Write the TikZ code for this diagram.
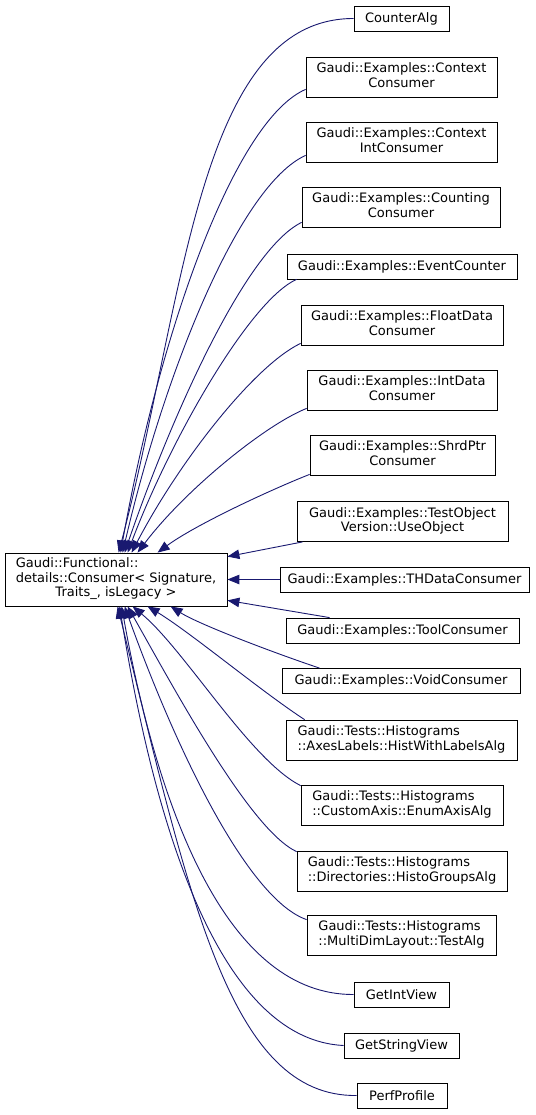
\documentclass[tikz,border=0pt]{standalone}
\usepackage{fontspec}
\setmainfont{DejaVu Sans}
\usetikzlibrary{arrows.meta}
\definecolor{edgeblue}{HTML}{191970}
\newcommand{\twoL}[2]{\begin{tabular}{@{}l@{}}#1\\\multicolumn{1}{@{}c@{}}{#2}\end{tabular}}
\begin{document}
\begin{tikzpicture}[x=1pt,y=-1pt,
  cls/.style={draw=black, fill=white, line width=0.8pt, inner sep=0pt,
    font=\fontsize{13}{14.5}\selectfont, align=center},
  edge/.style={draw=edgeblue, line width=0.9pt, {Triangle[length=12pt,width=9.5pt]}-}]
\useasboundingbox (0,0) rectangle (535,1115);
% parent
\node[cls, minimum width=222pt, minimum height=53pt] (main) at (116,579.5)
  {\begin{tabular}{@{}l@{}}Gaudi::Functional::\\details::Consumer< Signature,\\\multicolumn{1}{@{}c@{}}{Traits\_, isLegacy >}\end{tabular}};
% children
\node[cls, minimum width=95pt, minimum height=25pt] (counter) at (401.5,18.5) {CounterAlg};
\node[cls, minimum width=191pt, minimum height=40pt] (ctx) at (401.5,77) {\twoL{Gaudi::Examples::Context}{Consumer}};
\node[cls, minimum width=191pt, minimum height=40pt] (ctxint) at (401.5,142) {\twoL{Gaudi::Examples::Context}{IntConsumer}};
\node[cls, minimum width=198pt, minimum height=40pt] (counting) at (401,207) {\twoL{Gaudi::Examples::Counting}{Consumer}};
\node[cls, minimum width=230pt, minimum height=25pt] (event) at (402,266.5) {Gaudi::Examples::EventCounter};
\node[cls, minimum width=202pt, minimum height=40pt] (float) at (402,325) {\twoL{Gaudi::Examples::FloatData}{Consumer}};
\node[cls, minimum width=190pt, minimum height=40pt] (intdata) at (402,390) {\twoL{Gaudi::Examples::IntData}{Consumer}};
\node[cls, minimum width=185pt, minimum height=40pt] (shrd) at (402.5,455) {\twoL{Gaudi::Examples::ShrdPtr}{Consumer}};
\node[cls, minimum width=211pt, minimum height=40pt] (testobj) at (402.5,521.5) {\twoL{Gaudi::Examples::TestObject}{Version::UseObject}};
\node[cls, minimum width=249pt, minimum height=25pt] (thdata) at (404.5,579.5) {Gaudi::Examples::THDataConsumer};
\node[cls, minimum width=233pt, minimum height=25pt] (tool) at (402.5,630.5) {Gaudi::Examples::ToolConsumer};
\node[cls, minimum width=238pt, minimum height=25pt] (void) at (401,681) {Gaudi::Examples::VoidConsumer};
\node[cls, minimum width=231pt, minimum height=40pt] (axes) at (401.5,740) {\twoL{Gaudi::Tests::Histograms}{::AxesLabels::HistWithLabelsAlg}};
\node[cls, minimum width=202pt, minimum height=40pt] (custom) at (402,805) {\twoL{Gaudi::Tests::Histograms}{::CustomAxis::EnumAxisAlg}};
\node[cls, minimum width=210pt, minimum height=40pt] (dirs) at (402,871) {\twoL{Gaudi::Tests::Histograms}{::Directories::HistoGroupsAlg}};
\node[cls, minimum width=189pt, minimum height=40pt] (multi) at (401.5,935) {\twoL{Gaudi::Tests::Histograms}{::MultiDimLayout::TestAlg}};
\node[cls, minimum width=95pt, minimum height=25pt] (getint) at (401.5,994.5) {GetIntView};
\node[cls, minimum width=115pt, minimum height=25pt] (getstr) at (401.5,1045.5) {GetStringView};
\node[cls, minimum width=90pt, minimum height=25pt] (perf) at (402,1095.5) {PerfProfile};
% edges to top of parent
\draw[edge] ([xshift=114pt]main.north west) .. controls (185,300) and (198,18.5) .. (counter.west);
\draw[edge] ([xshift=116pt]main.north west) .. controls (160,330) and (235,120) .. ([yshift=8pt]ctx.south west);
\draw[edge] ([xshift=118pt]main.north west) .. controls (165,370) and (240,185) .. ([yshift=7pt]ctxint.south west);
\draw[edge] ([xshift=120pt]main.north west) .. controls (170,420) and (245,250) .. ([yshift=5pt]counting.south west);
\draw[edge] ([xshift=123pt]main.north west) .. controls (170,440) and (250,300) .. ([xshift=10pt]event.south west);
\draw[edge] ([xshift=127pt]main.north west) .. controls (180,460) and (255,365) .. ([yshift=2pt]float.south west);
\draw[edge] ([xshift=133pt]main.north west) .. controls (185,490) and (265,425) .. ([yshift=2pt]intdata.south west);
\draw[edge] ([xshift=153pt]main.north west) .. controls (195,525) and (270,490) .. ([yshift=1pt]shrd.south west);
% edges to right side
\draw[edge] ([yshift=-4pt]main.north east) -- ([xshift=6pt]testobj.south west);
\draw[edge] (main.east) -- (thdata.west);
\draw[edge] ([yshift=6pt]main.south east) -- ([xshift=44pt]tool.north west);
% edges to bottom of parent
\draw[edge] ([xshift=166pt]main.south west) .. controls (200,625) and (280,655) .. ([xshift=38pt]void.north west);
\draw[edge] ([xshift=143pt]main.south west) .. controls (190,632) and (262,692) .. ([xshift=19pt]axes.north west);
\draw[edge] ([xshift=128pt]main.south west) .. controls (185,650) and (250,760) .. ([yshift=-1pt]custom.north west);
\draw[edge] ([xshift=123pt]main.south west) .. controls (175,690) and (250,830) .. ([yshift=-1pt]dirs.north west);
\draw[edge] ([xshift=120pt]main.south west) .. controls (180,760) and (250,900) .. ([yshift=-5pt]multi.north west);
\draw[edge] ([xshift=117pt]main.south west) .. controls (160,820) and (230,995) .. (getint.west);
\draw[edge] ([xshift=115pt]main.south west) .. controls (160,860) and (230,1040) .. (getstr.west);
\draw[edge] ([xshift=113pt]main.south west) .. controls (190,900) and (230,1097) .. (perf.west);
\end{tikzpicture}
\end{document}
